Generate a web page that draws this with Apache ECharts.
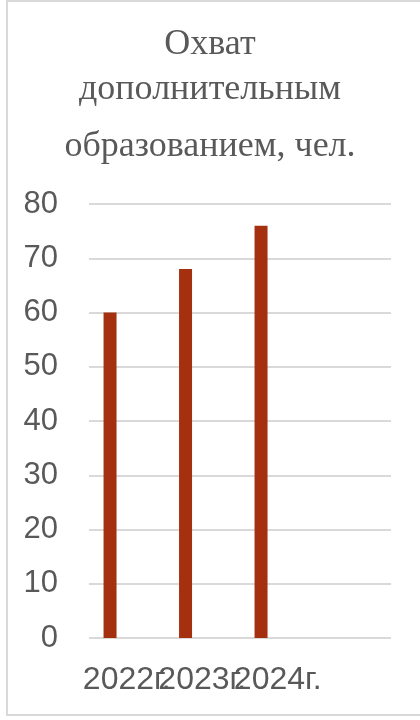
<!DOCTYPE html>
<html>
<head>
<meta charset="utf-8">
<script src="https://cdn.jsdelivr.net/npm/echarts@6/dist/echarts.min.js"></script>
<style>
html,body{margin:0;padding:0;background:#fff;}
#chart{width:420px;height:720px;}
</style>
</head>
<body>
<div id="chart"></div>
<script>
const titleLines = ['Охват', 'дополнительным', 'образованием, чел.'];
const categories = ['2022г.', '2023г.', '2024г.', ''];
const values = [60, 68, 76];
const yTicks = {min: 0, max: 80, interval: 10};

const chart = echarts.init(document.getElementById('chart'));
const titleTops = [22, 67, 124];
const option = {
  animation: false,
  backgroundColor: '#ffffff',
  graphic: [{
    type: 'rect',
    shape: {x: 7, y: 1, width: 418, height: 714},
    style: {fill: 'none', stroke: '#d9d9d9', lineWidth: 2},
    silent: true
  }],
  title: titleLines.map((t, i) => ({
    text: t,
    left: 'center',
    top: titleTops[i],
    textStyle: {fontFamily: '"Liberation Serif", "Times New Roman", serif', fontSize: 36, fontWeight: 'normal', color: '#595959'}
  })),
  grid: {left: 89, right: 29, top: 204, bottom: 82, containLabel: false},
  xAxis: {
    type: 'category',
    data: categories,
    axisLine: {show: false},
    axisTick: {show: false},
    axisLabel: {interval: 0, margin: 26, color: '#595959', fontSize: 32, fontFamily: '"Liberation Sans", Arial, sans-serif'}
  },
  yAxis: {
    type: 'value',
    min: yTicks.min, max: yTicks.max, interval: yTicks.interval,
    axisLine: {show: false},
    axisTick: {show: false},
    splitLine: {lineStyle: {color: '#d9d9d9', width: 2}},
    axisLabel: {margin: 31, color: '#595959', fontSize: 31, fontFamily: '"Liberation Sans", Arial, sans-serif'}
  },
  series: [
    {type: 'bar', data: values, barWidth: 13, barGap: '157%', itemStyle: {color: '#a5300f'}},
    {type: 'bar', data: [], barWidth: 13}
  ]
};
chart.setOption(option);
</script>
</body>
</html>
